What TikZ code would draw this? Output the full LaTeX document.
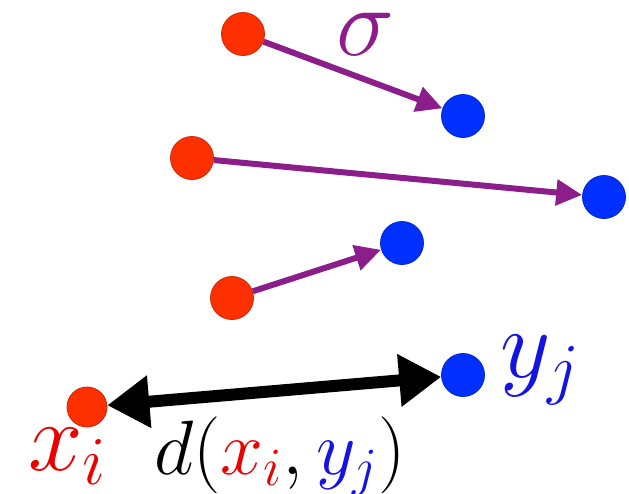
\RequirePackage{fix-cm}
\documentclass[tikz,border=0pt]{standalone}
\usetikzlibrary{arrows.meta}
\definecolor{dotred}{RGB}{255,48,0}
\definecolor{dotblue}{RGB}{0,48,255}
\definecolor{arrpurple}{RGB}{140,30,140}
\definecolor{txtred}{RGB}{235,0,0}
\definecolor{txtblue}{RGB}{20,20,225}
\begin{document}
\begin{tikzpicture}[x=1pt,y=-1pt,
  rdot/.style={circle,fill=dotred,draw=dotred!80!black,line width=0.8pt,minimum size=43pt,inner sep=0pt},
  bdot/.style={circle,fill=dotblue,draw=dotblue!80!black,line width=0.8pt,minimum size=43pt,inner sep=0pt},
  match/.style={draw=arrpurple,line width=6pt,-{Triangle[length=26pt,width=25pt,fill=arrpurple]}},
  dist/.style={draw=black,line width=12pt,{Triangle[length=42pt,width=50pt]}-{Triangle[length=42pt,width=50pt]}},
  bigl/.style={inner sep=0pt,anchor=base,font=\fontsize{98}{100}\selectfont},
  midl/.style={inner sep=0pt,anchor=base,font=\fontsize{77}{80}\selectfont}]
\useasboundingbox (0,0) rectangle (629,493);
\node[rdot] (r1) at (243,34) {};
\node[bdot] (b1) at (463,116) {};
\node[rdot] (r2) at (192,158) {};
\node[bdot] (b2) at (604,197) {};
\node[bdot] (b3) at (402,243) {};
\node[rdot] (r3) at (232,298) {};
\node[bdot] (b4) at (463,375) {};
\node[rdot, minimum size=40pt] (r4) at (87,407) {};
\draw[match] (r1) -- (b1);
\draw[match] (r2) -- (b2);
\draw[match] (r3) -- (b3);
\draw[dist] (r4) -- (b4);
\node[bigl,text=arrpurple] (sig) at (366,55) {$\sigma$};
\node[bigl,text=txtblue] (yj) at (540,377) {$y_j$};
\node[bigl,text=txtred] (xi) at (67,470) {$x_i$};
\node[midl] (dl) at (280,474) {$d(\textcolor{txtred}{x_i},\textcolor{txtblue}{y_j})$};
\end{tikzpicture}
\end{document}
